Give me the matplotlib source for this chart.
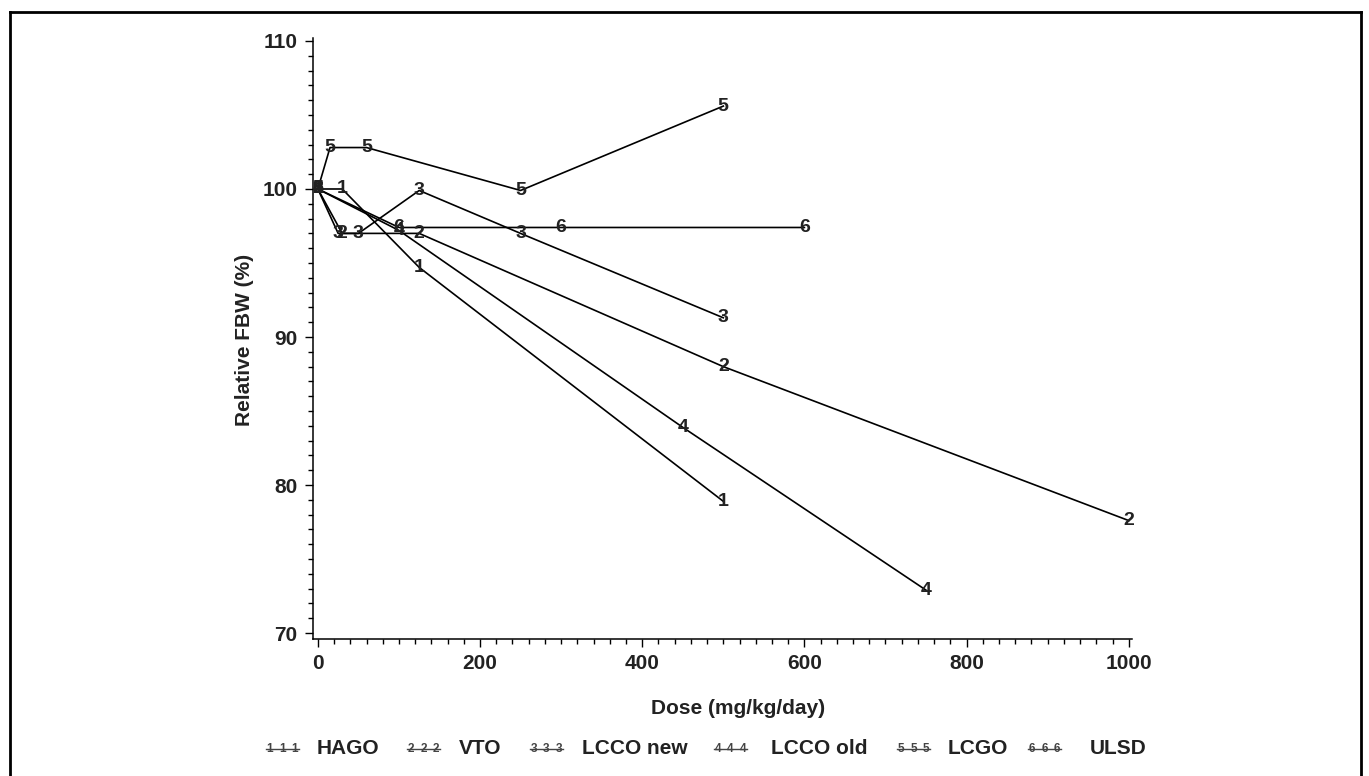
import matplotlib.pyplot as plt
from matplotlib.lines import Line2D
from matplotlib.ticker import MultipleLocator

plt.rcParams['font.family'] = ['Liberation Sans', 'DejaVu Sans']
plt.rcParams['font.weight'] = 'bold'

# data
names = ["HAGO", "VTO", "LCCO new", "LCCO old", "LCGO", "ULSD"]
symbols = ["1", "2", "3", "4", "5", "6"]
hago_x = [0, 30, 125, 500]
hago_y = [100, 100, 94.7, 78.9]
vto_x = [0, 30, 125, 500, 1000]
vto_y = [100, 97.0, 97.0, 88.0, 77.6]
lcco_new_x = [0, 25, 50, 125, 250, 500]
lcco_new_y = [100, 97.0, 97.0, 99.9, 97.0, 91.3]
lcco_old_x = [0, 100, 450, 750]
lcco_old_y = [100, 97.2, 83.9, 72.9]
lcgo_x = [0, 15, 60, 250, 500]
lcgo_y = [100, 102.8, 102.8, 99.9, 105.6]
ulsd_x = [0, 100, 300, 600]
ulsd_y = [100, 97.4, 97.4, 97.4]

series_x = [hago_x, vto_x, lcco_new_x, lcco_old_x, lcgo_x, ulsd_x]
series_y = [hago_y, vto_y, lcco_new_y, lcco_old_y, lcgo_y, ulsd_y]

W, H = 1369, 776
fig = plt.figure(figsize=(W / 100, H / 100), dpi=100)
ax = fig.add_axes([313 / W, 1 - 639 / H, (1132 - 313) / W, (639 - 38) / H])

txtc = '#222222'
for xs, ys, s in zip(series_x, series_y, symbols):
    ax.plot(xs, ys, color='black', lw=1.2, zorder=2)
    for x, y in zip(xs, ys):
        ax.text(x, y, s, ha='center', va='center', fontsize=14,
                fontweight='bold', color=txtc, zorder=3)

ax.set_xlim(-6, 1004)
ax.set_ylim(69.6, 110.2)
ax.set_xticks([0, 200, 400, 600, 800, 1000])
ax.set_yticks([70, 80, 90, 100, 110])
ax.xaxis.set_minor_locator(MultipleLocator(20))
ax.yaxis.set_minor_locator(MultipleLocator(1))
ax.tick_params(which='major', length=6, width=1, labelsize=15,
               labelcolor=txtc, pad=5)
ax.tick_params(which='minor', length=3.5, width=1)
for lab in ax.get_xticklabels() + ax.get_yticklabels():
    lab.set_fontweight('bold')
for sp in ['top', 'right']:
    ax.spines[sp].set_visible(False)
for sp in ['left', 'bottom']:
    ax.spines[sp].set_linewidth(1.1)

fig.text(738 / W, 1 - 709 / H, "Dose (mg/kg/day)", ha='center', va='center',
         fontsize=15, fontweight='bold', color=txtc)
fig.text(245 / W, 1 - 340 / H, "Relative FBW (%)", ha='center', va='center',
         rotation=90, fontsize=15, fontweight='bold', color=txtc)

# legend drawn across the bottom
leg_y = 1 - 749 / H
sample_x = [266, 407, 530, 714, 897, 1028]
label_x = [317, 459, 582, 771, 948, 1090]
for sx, lx, s, name in zip(sample_x, label_x, symbols, names):
    fig.add_artist(Line2D([sx / W, (sx + 33) / W], [leg_y, leg_y],
                          transform=fig.transFigure, color='#444444', lw=1))
    for k in range(3):
        fig.text((sx + 4 + k * 12.5) / W, leg_y, s, ha='center', va='center',
                 fontsize=8.5, fontweight='bold', color='#444444')
    fig.text(lx / W, leg_y, name, ha='left', va='center',
             fontsize=15, fontweight='bold', color=txtc)

# outer frame
fx0, fx1 = 10 / W, 1361 / W
fy1 = 1 - 12 / H
for xs_, ys_ in [([fx0, fx0], [0, fy1]), ([fx0, fx1], [fy1, fy1]), ([fx1, fx1], [0, fy1])]:
    fig.add_artist(Line2D(xs_, ys_, transform=fig.transFigure, color='black', lw=2))

fig.savefig('out.png', dpi=100)
